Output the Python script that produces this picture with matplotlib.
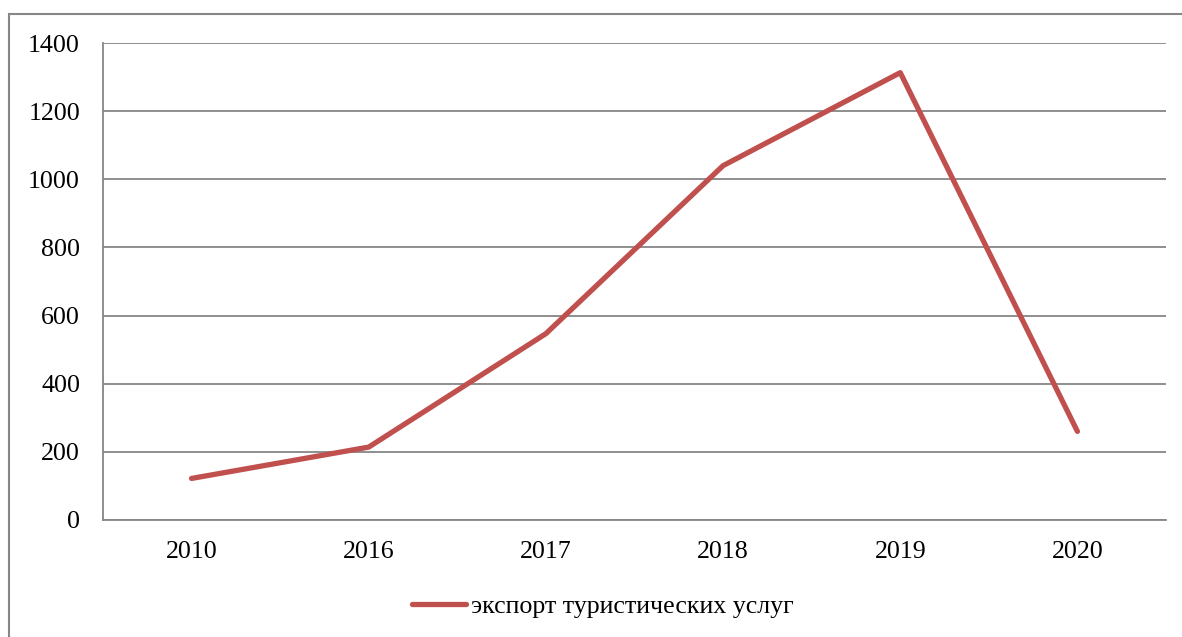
import matplotlib
matplotlib.use("Agg")
import matplotlib.pyplot as plt
from matplotlib.patches import Rectangle
from matplotlib.lines import Line2D

years = ["2010", "2016", "2017", "2018", "2019", "2020"]
export_values = [122, 214, 547, 1040, 1313, 260]
yticks = [0, 200, 400, 600, 800, 1000, 1200, 1400]
series_name = "экспорт туристических услуг"

plt.rcParams['font.family'] = ['Liberation Serif', 'DejaVu Serif']

W, H = 1182, 637
fig = plt.figure(figsize=(W / 100, H / 100), dpi=100)

# outer chart border (left and top visible)
fig.patches.append(Rectangle((9.5 / W, -0.1), 1.2, 1 - 13.5 / H + 0.1,
                             transform=fig.transFigure, fill=False,
                             edgecolor='#868686', linewidth=1.5))

left, right, top, bottom = 103, 1166, 43, 520
ax = fig.add_axes([left / W, 1 - bottom / H, (right - left) / W, (bottom - top) / H])

x = list(range(len(years)))
ax.plot(x, export_values, color='#C0504D', linewidth=3.8, solid_capstyle='round',
        solid_joinstyle='round', zorder=3)

ax.set_xlim(-0.5, len(years) - 0.5)
ax.set_ylim(0, 1400)
ax.set_yticks(yticks)
ax.set_yticklabels([str(v) for v in yticks])
ax.set_xticks(x)
ax.set_xticklabels(years)
ax.yaxis.grid(True, color='#868686', linewidth=1.3)
ax.set_axisbelow(True)
for s in ['top', 'right']:
    ax.spines[s].set_visible(False)
for s in ['left', 'bottom']:
    ax.spines[s].set_color('#868686')
    ax.spines[s].set_linewidth(1.3)
ax.tick_params(axis='both', length=0, labelsize=18.7, colors='black')
ax.tick_params(axis='y', pad=16.5)
ax.tick_params(axis='x', pad=15)

# legend
handle = Line2D([], [], color='#C0504D', linewidth=3.8, solid_capstyle='round')
fig.legend([handle], [series_name], loc='center', bbox_to_anchor=(603 / W, 1 - 606 / H),
           frameon=False, fontsize=18.7, handlelength=2.1, handletextpad=0.2)

fig.savefig("out.png", dpi=100)
